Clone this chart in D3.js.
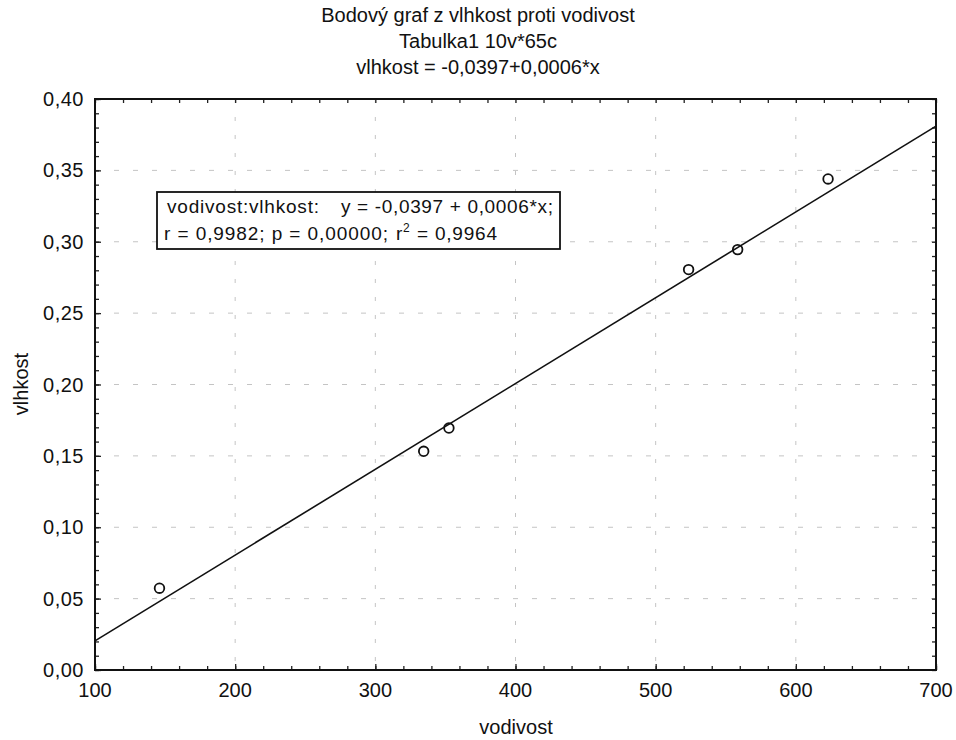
<!DOCTYPE html>
<html><head><meta charset="utf-8">
<script src="https://cdn.jsdelivr.net/npm/d3@7"></script>
<style>body{margin:0;background:#fff}text{font-family:"Liberation Sans",Arial,sans-serif;fill:#111}</style>
</head><body><svg id="c" width="956" height="740"></svg>
<script>
const titleLines = ["Bodový graf z vlhkost proti vodivost","Tabulka1 10v*65c","vlhkost = -0,0397+0,0006*x"];
const xLabel = "vodivost", yLabel = "vlhkost";
const vodivost = [146, 334.5, 352.5, 523.5, 558.5, 623];
const vlhkost = [0.0573, 0.1532, 0.1695, 0.2805, 0.2945, 0.3440];
const fitIntercept = -0.0397, fitSlope = 0.000601;
const xTicks = [100,200,300,400,500,600,700];
const yTicks = [0,0.05,0.10,0.15,0.20,0.25,0.30,0.35,0.40];
const legendName = "vodivost:vlhkost:";
const legendEq = "y = -0,0397 + 0,0006*x;";
const legendStats = ["r = 0,9982; p = 0,00000;", "r", "2", "= 0,9964"];

const svg = d3.select("#c");
const L=95,R=936,T=99,B=670;
const x = d3.scaleLinear().domain([100,700]).range([L,R]);
const y = d3.scaleLinear().domain([0,0.40]).range([B,T]);
const fmtY = d => d3.format(".2f")(d).replace(".",",");

// grid
const g = svg.append("g");
g.selectAll(".gx").data(xTicks.slice(1,-1)).join("line")
 .attr("x1",d=>x(d)).attr("x2",d=>x(d)).attr("y1",T).attr("y2",B)
 .attr("stroke","#c4c4c4").attr("stroke-dasharray","4,14").attr("stroke-width",1);
g.selectAll(".gy").data(yTicks.slice(1,-1)).join("line")
 .attr("y1",d=>y(d)).attr("y2",d=>y(d)).attr("x1",L).attr("x2",R)
 .attr("stroke","#c4c4c4").attr("stroke-dasharray","5,14").attr("stroke-width",1);

// axes with inward ticks
const minorX = d3.range(100,701,20), minorY = d3.range(0,0.4001,0.01);
const ax = svg.append("g");
ax.append("g").attr("transform",`translate(0,${B})`).call(d3.axisBottom(x).tickValues(minorX).tickSize(-4).tickFormat("")).call(s=>s.select(".domain").remove());
ax.append("g").attr("transform",`translate(0,${T})`).call(d3.axisTop(x).tickValues(minorX).tickSize(-4).tickFormat("")).call(s=>s.select(".domain").remove());
ax.append("g").attr("transform",`translate(${L},0)`).call(d3.axisLeft(y).tickValues(minorY).tickSize(-4).tickFormat("")).call(s=>s.select(".domain").remove());
ax.append("g").attr("transform",`translate(${R},0)`).call(d3.axisRight(y).tickValues(minorY).tickSize(-4).tickFormat("")).call(s=>s.select(".domain").remove());
ax.append("g").attr("transform",`translate(0,${B})`).call(d3.axisBottom(x).tickValues(xTicks).tickSize(-6).tickFormat("")).call(s=>s.select(".domain").remove());
ax.append("g").attr("transform",`translate(${L},0)`).call(d3.axisLeft(y).tickValues(yTicks).tickSize(-6).tickFormat("")).call(s=>s.select(".domain").remove());
ax.selectAll("line").attr("stroke","#222").attr("stroke-width",1.3);
svg.append("rect").attr("x",L).attr("y",T).attr("width",R-L).attr("height",B-T).attr("fill","none").attr("stroke","#111").attr("stroke-width",2);

// tick labels
svg.selectAll(".xl").data(xTicks).join("text").attr("x",d=>x(d)).attr("y",B+27).attr("text-anchor","middle").style("font-size","20px").text(d=>d);
svg.selectAll(".yl").data(yTicks).join("text").attr("x",L-11).attr("y",d=>y(d)+7).attr("text-anchor","end").style("font-size","20px").style("letter-spacing","0.5px").text(fmtY);

// fit line
svg.append("line").attr("x1",x(100)).attr("y1",y(fitIntercept+fitSlope*100)).attr("x2",x(700)).attr("y2",y(fitIntercept+fitSlope*700)).attr("stroke","#111").attr("stroke-width",1.6);

// points
svg.selectAll(".pt").data(vodivost).join("circle").attr("cx",d=>x(d)).attr("cy",(d,i)=>y(vlhkost[i])).attr("r",4.8).attr("fill","none").attr("stroke","#111").attr("stroke-width",1.8);

// titles
svg.selectAll(".tt").data(titleLines).join("text").attr("x",478).attr("y",(d,i)=>22+i*26).attr("text-anchor","middle").style("font-size","20px").text(d=>d);
svg.append("text").attr("x",516).attr("y",734).attr("text-anchor","middle").style("font-size","20px").text(xLabel);
svg.append("text").attr("transform","translate(28,384) rotate(-90)").attr("text-anchor","middle").style("font-size","20px").text(yLabel);

// legend box
svg.append("rect").attr("x",157).attr("y",192).attr("width",403).attr("height",57).attr("fill","#fff").attr("stroke","#111").attr("stroke-width",1.8);
const fs = "19px";
svg.append("text").attr("x",167).attr("y",213).style("font-size",fs).attr("textLength",152).attr("lengthAdjust","spacing").text(legendName);
svg.append("text").attr("x",341).attr("y",213).style("font-size",fs).attr("textLength",212).attr("lengthAdjust","spacing").text(legendEq);
svg.append("text").attr("x",164).attr("y",240).style("font-size",fs).attr("textLength",224).attr("lengthAdjust","spacing").text(legendStats[0]);
svg.append("text").attr("x",396).attr("y",240).style("font-size",fs).text(legendStats[1]);
svg.append("text").attr("x",403).attr("y",232).style("font-size","12px").text(legendStats[2]);
svg.append("text").attr("x",417).attr("y",240).style("font-size",fs).attr("textLength",80).attr("lengthAdjust","spacing").text(legendStats[3]);
</script></body></html>
